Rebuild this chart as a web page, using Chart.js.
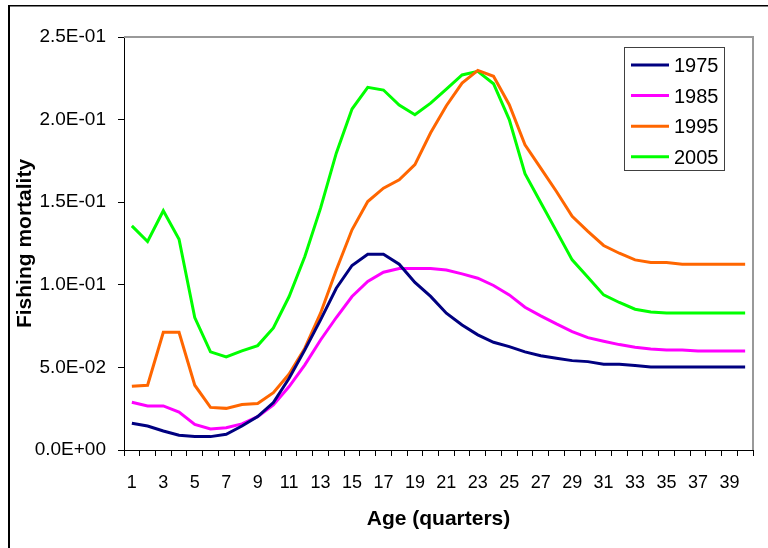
<!DOCTYPE html>
<html>
<head>
<meta charset="utf-8">
<title>Fishing mortality by age</title>
<script src="https://cdn.jsdelivr.net/npm/chart.js@4.4.1/dist/chart.umd.min.js"></script>
<style>
  html, body { margin: 0; padding: 0; background: #fff; }
  #wrap { position: relative; width: 768px; height: 548px; }
</style>
</head>
<body>
<div id="wrap"><canvas id="chart"></canvas></div>
<script>
// Ages in quarters
const ages = [1, 2, 3, 4, 5, 6, 7, 8, 9, 10, 11, 12, 13, 14, 15, 16, 17, 18, 19, 20,
  21, 22, 23, 24, 25, 26, 27, 28, 29, 30, 31, 32, 33, 34, 35, 36, 37, 38, 39, 40];

// Fishing mortality per year
const f1975 = [0.0162, 0.0145, 0.0115, 0.0089, 0.0081, 0.0081, 0.0095, 0.0145, 0.0202, 0.0287,
  0.0434, 0.0606, 0.0788, 0.0979, 0.1117, 0.1185, 0.1185, 0.1125, 0.1014, 0.0930,
  0.0828, 0.0757, 0.0697, 0.0652, 0.0626, 0.0594, 0.0571, 0.0555, 0.0541, 0.0535,
  0.0519, 0.0519, 0.0511, 0.0503, 0.0503, 0.0503, 0.0503, 0.0503, 0.0503, 0.0503];
const f1985 = [0.0289, 0.0267, 0.0267, 0.0230, 0.0155, 0.0127, 0.0135, 0.0158, 0.0202, 0.0273,
  0.0384, 0.0515, 0.0666, 0.0802, 0.0929, 0.1020, 0.1076, 0.1099, 0.1099, 0.1099,
  0.1090, 0.1066, 0.1040, 0.0996, 0.0939, 0.0864, 0.0812, 0.0763, 0.0717, 0.0680,
  0.0658, 0.0638, 0.0622, 0.0612, 0.0606, 0.0606, 0.0600, 0.0600, 0.0600, 0.0600];
const f1995 = [0.0386, 0.0392, 0.0713, 0.0713, 0.0392, 0.0258, 0.0252, 0.0275, 0.0281, 0.0347,
  0.0460, 0.0616, 0.0828, 0.1090, 0.1333, 0.1504, 0.1585, 0.1636, 0.1727, 0.1920,
  0.2084, 0.2221, 0.2298, 0.2262, 0.2090, 0.1848, 0.1706, 0.1565, 0.1414, 0.1323,
  0.1238, 0.1191, 0.1151, 0.1135, 0.1135, 0.1125, 0.1125, 0.1125, 0.1125, 0.1125];
const f2005 = [0.1357, 0.1262, 0.1448, 0.1276, 0.0802, 0.0594, 0.0563, 0.0600, 0.0632, 0.0739,
  0.0929, 0.1171, 0.1464, 0.1797, 0.2064, 0.2195, 0.2179, 0.2088, 0.2029, 0.2100,
  0.2185, 0.2270, 0.2292, 0.2217, 0.2000, 0.1672, 0.1498, 0.1325, 0.1151, 0.1046,
  0.0939, 0.0893, 0.0852, 0.0836, 0.0830, 0.0830, 0.0830, 0.0830, 0.0830, 0.0830];

const seriesNames = ['1975', '1985', '1995', '2005'];
const yTickLabels = ['0.0E+00', '5.0E-02', '1.0E-01', '1.5E-01', '2.0E-01', '2.5E-01'];

const colores = ['#000080', '#FF00FF', '#FF6600', '#00FF00'];
const FONT = "'Liberation Sans', Arial, sans-serif";

// Marco exterior, borde gris del área de trazado y leyenda flotante
const decoracion = {
  id: 'decoracion',
  beforeDraw(chart) {
    const ctx = chart.ctx;
    ctx.save();
    ctx.fillStyle = '#000';
    ctx.fillRect(8, 5, 2, 548);
    ctx.fillRect(8, 5, 768, 1.5);
    ctx.restore();
  },
  afterDraw(chart) {
    const { ctx, chartArea } = chart;
    ctx.save();
    ctx.strokeStyle = '#999';
    ctx.lineWidth = 2;
    ctx.beginPath();
    ctx.moveTo(chartArea.left, chartArea.top);
    ctx.lineTo(chartArea.right, chartArea.top);
    ctx.lineTo(chartArea.right, chartArea.bottom);
    ctx.stroke();

    // Leyenda
    const bx = 624, by = 47, bw = 100, bh = 123;
    ctx.fillStyle = '#fff';
    ctx.fillRect(bx, by, bw, bh);
    ctx.strokeStyle = '#404040';
    ctx.lineWidth = 1;
    ctx.strokeRect(bx + 0.5, by + 0.5, bw, bh);
    ctx.font = '20px ' + FONT;
    ctx.textBaseline = 'middle';
    chart.data.datasets.forEach((ds, i) => {
      const y = 65 + i * 30.6;
      ctx.strokeStyle = ds.borderColor;
      ctx.lineWidth = 3;
      ctx.beginPath();
      ctx.moveTo(631, y);
      ctx.lineTo(669, y);
      ctx.stroke();
      ctx.fillStyle = '#000';
      ctx.fillText(ds.label, 674, y + 1.5);
    });
    ctx.restore();
  }
};

const series = [f1975, f1985, f1995, f2005];

new Chart(document.getElementById('chart'), {
  type: 'line',
  data: {
    labels: ages,
    datasets: series.map((data, i) => ({
      label: seriesNames[i],
      data,
      borderColor: colores[i],
      backgroundColor: colores[i],
      borderWidth: 3,
      pointRadius: 0,
      tension: 0,
      fill: false
    }))
  },
  options: {
    responsive: true,
    maintainAspectRatio: false,
    animation: false,
    layout: { padding: { left: 10, top: 37, right: 15, bottom: 10 } },
    plugins: {
      legend: { display: false },
      tooltip: { enabled: false }
    },
    scales: {
      x: {
        type: 'category',
        offset: true,
        grid: {
          offset: true,
          drawOnChartArea: false,
          drawTicks: true,
          tickLength: 6,
          color: '#000'
        },
        border: { color: '#000', width: 1 },
        ticks: {
          autoSkip: false,
          maxRotation: 0,
          padding: 16,
          color: '#000',
          font: { family: FONT, size: 18 },
          callback: (val, idx) => (idx % 2 === 0 ? String(ages[idx]) : '')
        },
        title: {
          display: true,
          text: 'Age (quarters)',
          color: '#000',
          font: { family: FONT, size: 21, weight: 'bold' },
          padding: { top: 0, bottom: 6 }
        },
        afterFit: (scale) => { scale.height = 88; }
      },
      y: {
        min: 0,
        max: 0.25,
        grid: {
          drawOnChartArea: false,
          drawTicks: true,
          tickLength: 6,
          color: '#000'
        },
        border: { color: '#000', width: 1 },
        ticks: {
          stepSize: 0.05,
          padding: 12,
          color: '#000',
          font: { family: FONT, size: 19 },
          callback: (val, idx) => yTickLabels[idx]
        },
        title: {
          display: true,
          text: 'Fishing mortality',
          color: '#000',
          font: { family: FONT, size: 21, weight: 'bold' },
          padding: { top: 3, bottom: 0 }
        },
        afterFit: (scale) => { scale.width = 114; }
      }
    }
  },
  plugins: [decoracion]
});
</script>
</body>
</html>
